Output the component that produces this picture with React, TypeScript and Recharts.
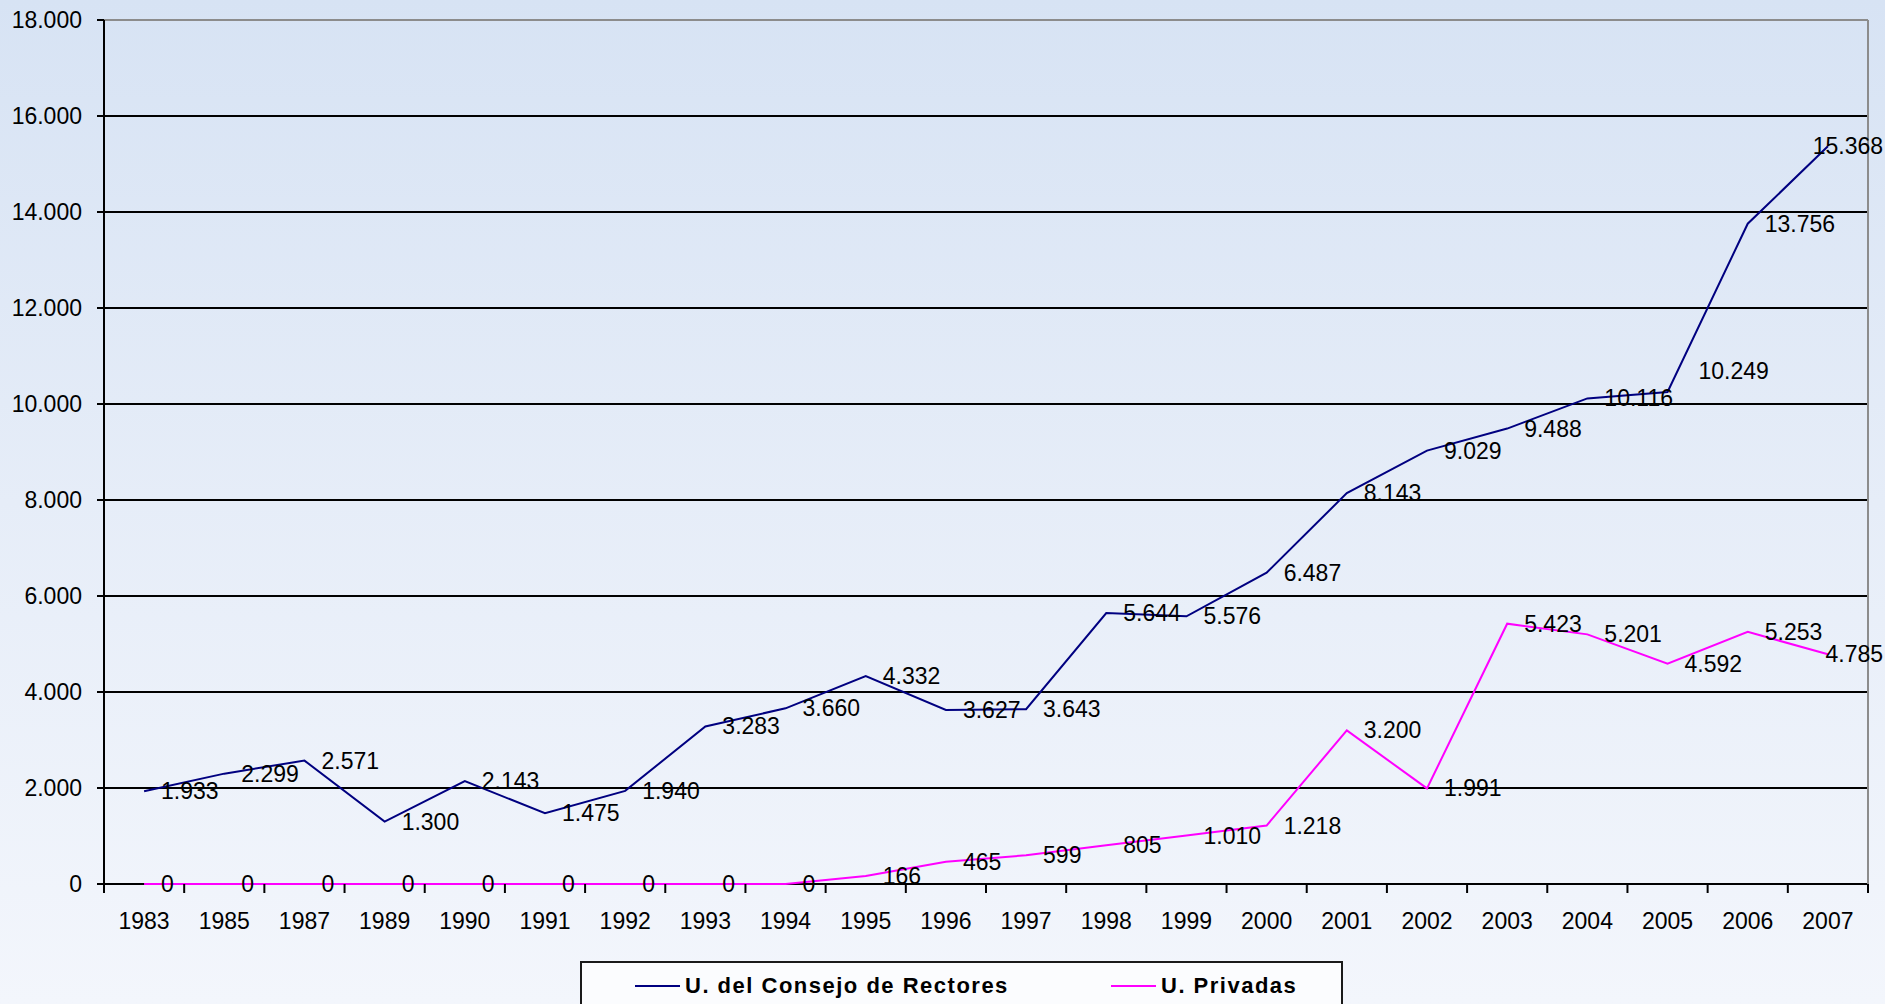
import { LineChart, Line, XAxis, YAxis, CartesianGrid, Legend, LabelList } from 'recharts';

const years = ['1983', '1985', '1987', '1989', '1990', '1991', '1992', '1993', '1994', '1995', '1996',
  '1997', '1998', '1999', '2000', '2001', '2002', '2003', '2004', '2005', '2006', '2007'];
const consejo = [1933, 2299, 2571, 1300, 2143, 1475, 1940, 3283, 3660, 4332, 3627,
  3643, 5644, 5576, 6487, 8143, 9029, 9488, 10116, 10249, 13756, 15368];
const privadas = [0, 0, 0, 0, 0, 0, 0, 0, 0, 166, 465,
  599, 805, 1010, 1218, 3200, 1991, 5423, 5201, 4592, 5253, 4785];
const yTicks = [0, 2000, 4000, 6000, 8000, 10000, 12000, 14000, 16000, 18000];
const seriesNames = ['U. del Consejo de Rectores', 'U. Privadas'];
const seriesColors = ['#000080', '#FF00FF'];

const data = years.map((year, i) => ({ year, consejo: consejo[i], privadas: privadas[i] }));

const W = 1885;
const H = 1004;
const M = { top: 20, right: 17, bottom: 0, left: 0 };
const Y_AXIS_W = 104;
const X_AXIS_H = 120;
const HALF_BAND = (W - M.left - M.right - Y_AXIS_W) / years.length / 2;
const FONT = '"Liberation Sans", Arial, sans-serif';
const FS = 23;

const fmt = (v: number) => String(v).replace(/\B(?=(\d{3})+(?!\d))/g, '.');
// rough text width for Liberation Sans digits
const textW = (s: string) => s.split('').reduce((a, c) => a + (c === '.' ? 0.278 : 0.556) * FS, 0);

const makeLabel = (nudge: Record<number, [number, number]>) => (props: any) => {
  const { x, y, value, index } = props;
  if (x == null || y == null) return null;
  const s = fmt(Number(value));
  const [dx, dy] = nudge[index] ?? [0, 0];
  const tx = Math.min(x + 17 + dx, W - 2 - textW(s));
  return (
    <text x={tx} y={y + dy} dominantBaseline="central" fontSize={FS} fontFamily={FONT} fill="#000">
      {s}
    </text>
  );
};

const XTick = (props: any) => {
  const { x, y, payload, index } = props;
  return (
    <g>
      {index === 0 && <line x1={x - HALF_BAND} x2={x - HALF_BAND} y1={y} y2={y + 9} stroke="#000" strokeWidth={2} />}
      <line x1={x + HALF_BAND} x2={x + HALF_BAND} y1={y} y2={y + 9} stroke="#000" strokeWidth={2} />
      <text x={x} y={y + 37} textAnchor="middle" dominantBaseline="central" fontSize={FS} fontFamily={FONT} fill="#000">
        {payload.value}
      </text>
    </g>
  );
};

const LegendBox = () => (
  <div
    style={{
      width: 763,
      height: 70,
      boxSizing: 'border-box',
      border: '2px solid #1a1a1a',
      background: '#fbfcfe',
      position: 'relative',
      fontFamily: FONT,
      fontWeight: 'bold',
      fontSize: 22,
      letterSpacing: 1.5,
      color: '#000',
    }}
  >
    {seriesNames.map((name, i) => (
      <div
        key={name}
        style={{ position: 'absolute', left: i === 0 ? 53 : 529, top: 10, display: 'flex', alignItems: 'center', height: 26 }}
      >
        <span style={{ display: 'inline-block', width: 45, height: 2, background: seriesColors[i], marginRight: 5 }} />
        <span style={{ whiteSpace: 'nowrap' }}>{name}</span>
      </div>
    ))}
  </div>
);

export default function App() {
  return (
    <div
      style={{
        position: 'absolute',
        left: 0,
        top: 0,
        width: W,
        height: H,
        overflow: 'hidden',
        background: 'linear-gradient(to bottom, #d7e3f4 0%, #e6edf8 50%, #f3f6fc 100%)',
      }}
    >
      <LineChart width={W} height={H} data={data} margin={M}>
        {/* the 0 gridline doubles as the x axis line so the series draw over it */}
        <CartesianGrid horizontal vertical={false} stroke="#000" strokeWidth={2} />
        <CartesianGrid
          stroke="#8c8c8c"
          strokeWidth={2}
          horizontalCoordinatesGenerator={({ offset }: any) => [offset.top]}
          verticalCoordinatesGenerator={({ offset }: any) => [offset.left + offset.width]}
        />
        <XAxis
          dataKey="year"
          scale="band"
          height={X_AXIS_H}
          interval={0}
          tickSize={0}
          tickMargin={0}
          tickLine={false}
          axisLine={false}
          tick={<XTick />}
        />
        <YAxis
          width={Y_AXIS_W}
          domain={[0, 18000]}
          ticks={yTicks}
          interval={0}
          tickFormatter={fmt}
          tickSize={7}
          tickMargin={15}
          tickLine={{ stroke: '#000', strokeWidth: 2 }}
          axisLine={{ stroke: '#000', strokeWidth: 2 }}
          tick={{ fill: '#000', fontSize: FS, fontFamily: FONT }}
        />
        <Legend
          verticalAlign="middle"
          layout="horizontal"
          wrapperStyle={{ left: 580, top: 961, width: 763, height: 70 }}
          content={<LegendBox />}
        />
        <Line
          name={seriesNames[0]}
          dataKey="consejo"
          type="linear"
          stroke={seriesColors[0]}
          strokeWidth={2}
          dot={false}
          isAnimationActive={false}
        >
          <LabelList dataKey="consejo" content={makeLabel({ 19: [14, -21] })} />
        </Line>
        <Line
          name={seriesNames[1]}
          dataKey="privadas"
          type="linear"
          stroke={seriesColors[1]}
          strokeWidth={2}
          dot={false}
          isAnimationActive={false}
        >
          <LabelList dataKey="privadas" content={makeLabel({})} />
        </Line>
      </LineChart>
    </div>
  );
}
